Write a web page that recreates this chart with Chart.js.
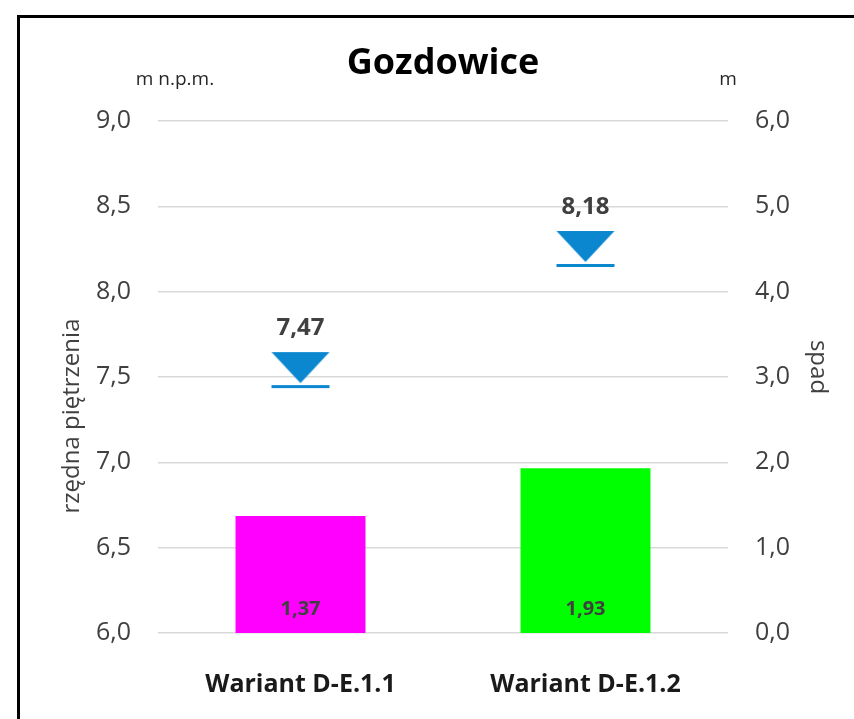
<!DOCTYPE html>
<html>
<head>
<meta charset="utf-8">
<script src="https://cdn.jsdelivr.net/npm/chart.js@4/dist/chart.umd.min.js"></script>
<style>
  html, body { margin: 0; padding: 0; background: #fff; }
  #wrap { width: 854px; height: 719px; }
</style>
</head>
<body>
<div id="wrap"><canvas id="c" width="854" height="719"></canvas></div>
<script>
const categories = ['Wariant D-E.1.1', 'Wariant D-E.1.2']
const spad = [1.37, 1.93]
const rzedna = [7.47, 8.18]
const barColors = ['#ff00ff', '#00ff00']

const FONT = "'Open Sans', sans-serif"
const fmt = v => v.toFixed(2).replace('.', ',')
const fmtTick = v => Number(v).toFixed(1).replace('.', ',')

// water level symbol: triangle pointing down with a line under the tip
function waterMark() {
	const c = document.createElement('canvas')
	c.width = 60
	c.height = 64
	const g = c.getContext('2d')
	g.fillStyle = '#0b87d0'
	g.beginPath()
	g.moveTo(1, 2)
	g.lineTo(59, 2)
	g.lineTo(30, 33)
	g.closePath()
	g.fill()
	g.fillRect(1, 35, 58, 3)
	return c
}

const decorations = {
	id: 'decorations',
	beforeDraw(chart) {
		const ctx = chart.ctx
		ctx.save()
		ctx.fillStyle = '#fff'
		ctx.fillRect(0, 0, chart.width, chart.height)
		ctx.restore()
	},
	afterDraw(chart) {
		const ctx = chart.ctx
		ctx.save()
		// frame (runs off the right and bottom edges)
		ctx.strokeStyle = '#000'
		ctx.lineWidth = 3
		ctx.strokeRect(18.5, 16.5, 900, 800)

		ctx.textAlign = 'center'
		ctx.textBaseline = 'middle'
		ctx.fillStyle = '#000'
		ctx.font = 'bold 36px ' + FONT
		ctx.fillText('Gozdowice', 443, 64)

		ctx.fillStyle = '#262626'
		ctx.font = '19px ' + FONT
		ctx.fillText('m n.p.m.', 175, 80)
		ctx.fillText('m', 728, 80)

		ctx.fillStyle = '#404040'
		ctx.font = '24px ' + FONT
		ctx.save()
		ctx.translate(72, 416)
		ctx.rotate(-Math.PI / 2)
		ctx.fillText('rzędna piętrzenia', 0, 0)
		ctx.restore()
		ctx.save()
		ctx.translate(818, 367)
		ctx.rotate(Math.PI / 2)
		ctx.fillText('spad', 0, 0)
		ctx.restore()

		// value labels
		const bars = chart.getDatasetMeta(0).data
		ctx.font = 'bold 20px ' + FONT
		ctx.fillStyle = '#404040'
		bars.forEach((b, i) => {
			ctx.fillText(fmt(spad[i]), b.x, chart.chartArea.bottom - 24)
		})
		const pts = chart.getDatasetMeta(1).data
		ctx.font = 'bold 24px ' + FONT
		pts.forEach((p, i) => {
			ctx.fillText(fmt(rzedna[i]), p.x, p.y - 54)
		})
		ctx.restore()
	}
}

new Chart(document.getElementById('c'), {
	data: {
		labels: categories,
		datasets: [
			{
				type: 'bar',
				data: spad,
				yAxisID: 'y2',
				backgroundColor: barColors,
				barPercentage: 0.456,
				categoryPercentage: 1,
				order: 2
			},
			{
				type: 'line',
				data: rzedna,
				yAxisID: 'y',
				showLine: false,
				pointStyle: waterMark(),
				pointRadius: 30,
				order: 1
			}
		]
	},
	options: {
		responsive: false,
		animation: false,
		layout: { padding: { top: 121, left: 0, right: 0, bottom: 0 } },
		plugins: {
			legend: { display: false },
			tooltip: { enabled: false },
			title: { display: false }
		},
		scales: {
			x: {
				grid: { display: false },
				border: { display: false },
				ticks: {
					color: '#1a1a1a',
					font: { family: FONT, size: 25, weight: 'bold' },
					padding: 29,
					maxRotation: 0
				},
				afterFit: s => { s.height = 86 }
			},
			y: {
				position: 'left',
				min: 6,
				max: 9,
				grid: { color: '#d9d9d9', lineWidth: 1.5, drawTicks: false },
				border: { display: false },
				ticks: {
					stepSize: 0.5,
					color: '#404040',
					font: { family: FONT, size: 25 },
					padding: 27,
					callback: v => fmtTick(v)
				},
				afterFit: s => { s.width = 158 }
			},
			y2: {
				position: 'right',
				min: 0,
				max: 6,
				grid: { display: false, drawTicks: false },
				border: { display: false },
				ticks: {
					stepSize: 1,
					color: '#404040',
					font: { family: FONT, size: 25 },
					padding: 27,
					callback: v => fmtTick(v)
				},
				afterFit: s => { s.width = 126 }
			}
		}
	},
	plugins: [decorations]
})
</script>
</body>
</html>
